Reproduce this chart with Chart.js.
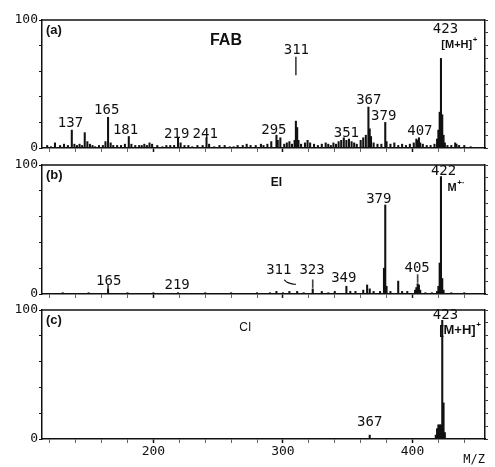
<!DOCTYPE html>
<html>
<head>
<meta charset="utf-8">
<script src="https://cdn.jsdelivr.net/npm/chart.js@4"></script>
<style>
  body { margin: 0; background: #fff; width: 495px; height: 467px; position: relative; overflow: hidden; }
  canvas { position: absolute; left: 0; }
</style>
</head>
<body>
<canvas id="fab" width="495" height="152" style="top:0px"></canvas>
<canvas id="ei" width="495" height="146" style="top:152px"></canvas>
<canvas id="ci" width="495" height="169" style="top:298px"></canvas>
<script>
// shared axes
const mzMin = 114;
const mzMax = 456;
const xTicks = [120, 140, 160, 180, 200, 220, 240, 260, 280, 300, 320, 340, 360, 380, 400, 420, 440];
const xLabelled = [200, 300, 400];
const yTicks = [0, 10, 20, 30, 40, 50, 60, 70, 80, 90, 100];
const yLabelled = [0, 50, 100];

// (a) FAB spectrum
const fabMz = [118, 121, 124, 128, 131, 134, 137, 139, 141, 143, 145, 147, 149, 151, 153, 155, 158, 161, 163, 165, 167, 169,
  172, 175, 178, 181, 183, 186, 189, 191, 193, 195, 197, 199, 203, 207, 210, 213, 216, 219, 221, 224, 227, 230, 234, 238,
  241, 243, 247, 251, 255, 259, 262, 265, 269, 272, 275, 279, 283, 285, 288, 291, 295, 296, 298, 301, 303, 305, 307, 309,
  310, 311, 312, 314, 317, 319, 321, 324, 327, 330, 333, 335, 337, 339, 341, 343, 345, 347, 349, 351, 353, 355, 357, 360,
  362, 364, 366, 367, 368, 370, 373, 376, 379, 380, 383, 386, 389, 392, 395, 398, 401, 403, 404, 405, 406, 408, 411, 414,
  417, 419, 420, 421, 422, 423, 424, 425, 427, 430, 433, 434, 436, 440, 445];
const fabInt = [2, 1, 4, 2, 3, 2, 14, 3, 2, 3, 2, 12, 5, 3, 2, 1, 2, 2, 5, 24, 4, 2,
  2, 2, 3, 9, 3, 2, 2, 2, 3, 2, 4, 3, 2, 1, 2, 2, 2, 8, 4, 2, 2, 1, 2, 2,
  8, 3, 1, 2, 2, 1, 1, 2, 2, 3, 2, 2, 3, 2, 3, 5, 10, 6, 8, 3, 4, 5, 3, 6,
  21, 16, 6, 3, 4, 6, 4, 3, 2, 3, 4, 3, 2, 4, 3, 5, 6, 8, 6, 7, 5, 4, 3, 6,
  8, 10, 32, 15, 9, 4, 3, 3, 20, 5, 3, 4, 2, 3, 2, 3, 4, 7, 6, 8, 4, 3, 2, 2,
  3, 7, 14, 28, 70, 26, 10, 4, 2, 2, 4, 3, 2, 2, 1];
// thin marker stroke drawn above the 311 peak
const fabLeadMz = [310];
const fabLeadLo = [57];
const fabLeadHi = [71];

// (b) EI spectrum
const eiMz = [130, 150, 165, 180, 200, 219, 240, 260, 280, 290, 295, 300, 305, 311, 316, 323, 330, 335, 340, 349, 352,
  356, 362, 365, 367, 370, 375, 378, 379, 380, 383, 389, 392, 396, 402, 403, 404, 405, 406, 410, 415, 419, 420, 421, 422,
  423, 424, 430, 440];
const eiInt = [1, 1, 4, 1, 1, 1, 1, 1, 1, 1, 2, 1, 2, 2, 1, 4, 2, 1, 2, 6, 2,
  2, 3, 7, 4, 2, 2, 20, 69, 6, 2, 10, 2, 2, 3, 5, 8, 7, 3, 1, 1, 2, 6, 24, 91,
  12, 3, 1, 1];
const eiLeadMz = [165, 323, 404];
const eiLeadLo = [4, 5, 9];
const eiLeadHi = [7, 11, 15];
// curved pointer from the "311" label to its peak
const eiHookMz = [301, 303.5, 307, 310];
const eiHookLv = [11, 9, 7.8, 7.5];

// (c) CI spectrum
const ciMz = [367, 418, 419, 420, 421, 422, 423, 424, 425];
const ciInt = [3, 3, 8, 11, 11, 11, 92, 28, 5];

// peak annotations (text, m/z, intensity level of the text centre)
const fabNotes = [
  { t: 'FAB', mz: 256, lv: 84, f: 'tag' },
  { t: '137', mz: 136, lv: 19.5, f: 'num' },
  { t: '165', mz: 164, lv: 29.5, f: 'num' },
  { t: '181', mz: 178.5, lv: 14, f: 'num' },
  { t: '219', mz: 218, lv: 10.5, f: 'num' },
  { t: '241', mz: 240, lv: 10.5, f: 'num' },
  { t: '295', mz: 293, lv: 14, f: 'num' },
  { t: '311', mz: 310.4, lv: 76.6, f: 'num' },
  { t: '351', mz: 349, lv: 11.7, f: 'num' },
  { t: '367', mz: 366.3, lv: 37.5, f: 'num' },
  { t: '379', mz: 377.8, lv: 24.5, f: 'num' },
  { t: '407', mz: 405.7, lv: 12.7, f: 'num' },
  { t: '423', mz: 425.5, lv: 92.7, f: 'num' },
  { t: '[M+H]', sup: '+', mz: 436, lv: 80.5, f: 'ion' }
];
const eiNotes = [
  { t: 'EI', mz: 295, lv: 86, f: 'small' },
  { t: '165', mz: 165.5, lv: 9.5, f: 'num' },
  { t: '219', mz: 218.3, lv: 7, f: 'num' },
  { t: '311', mz: 296.8, lv: 18.6, f: 'num' },
  { t: '323', mz: 322.5, lv: 18.6, f: 'num' },
  { t: '349', mz: 347, lv: 12, f: 'num' },
  { t: '379', mz: 374, lv: 73, f: 'num' },
  { t: '405', mz: 403.6, lv: 20, f: 'num' },
  { t: '422', mz: 424, lv: 94.8, f: 'num' },
  { t: 'M', sup: '+·', mz: 433.5, lv: 82, f: 'ion' }
];
const ciNotes = [
  { t: 'CI', mz: 271, lv: 86, f: 'plain' },
  { t: '367', mz: 367, lv: 12.6, f: 'num' },
  { t: '423', mz: 425.5, lv: 96, f: 'num' },
  { t: '[M+H]', sup: '+', mz: 436.5, lv: 84.5, f: 'big' }
];

const fonts = {
  num: '14px "DejaVu Sans Mono"',
  tag: 'bold 16px "Liberation Sans"',
  small: 'bold 12px "Liberation Sans"',
  plain: '12px "Liberation Sans"',
  ion: 'bold 11px "Liberation Sans"',
  big: 'bold 13px "Liberation Sans"'
};
const supFont = 'bold 8px "Liberation Sans"';
const ink = '#111';

function notesPlugin(letter, notes) {
  return {
    id: 'notes',
    afterDraw(chart) {
      const g = chart.ctx, a = chart.chartArea;
      const sx = chart.scales.x, sy = chart.scales.y;
      g.save();
      // frame top edge
      g.strokeStyle = ink;
      g.lineWidth = 1.5;
      g.beginPath();
      g.moveTo(a.left, a.top);
      g.lineTo(a.right, a.top);
      g.stroke();
      g.fillStyle = ink;
      g.textBaseline = 'middle';
      g.textAlign = 'left';
      g.font = 'bold 13px "Liberation Sans"';
      g.fillText(letter, a.left + 4, a.top + 10);
      notes.forEach(n => {
        const x = sx.getPixelForValue(n.mz), y = sy.getPixelForValue(n.lv);
        g.font = fonts[n.f];
        const w = g.measureText(n.t).width;
        let sw = 0;
        if (n.sup) { g.font = supFont; sw = g.measureText(n.sup).width; }
        const x0 = x - (w + sw) / 2;
        g.font = fonts[n.f];
        g.fillText(n.t, x0, y);
        if (n.sup) { g.font = supFont; g.fillText(n.sup, x0 + w + 0.5, y - 5); }
      });
      g.restore();
    }
  };
}

// keep the edge tick labels from shrinking the plot area
function noEdgePad(s, width) {
  s.width = width;
  s.paddingTop = 0;
  s.paddingBottom = 0;
}

function spectrum(id, opts) {
  const datasets = [{
    data: opts.mz.map((m, i) => ({ x: m, y: opts.int[i] })),
    backgroundColor: ink,
    barThickness: 1.4,
    grouped: false,
    order: 2
  }];
  if (opts.leadMz) {
    datasets.push({
      data: opts.leadMz.map((m, i) => ({ x: m, y: [opts.leadLo[i], opts.leadHi[i]] })),
      backgroundColor: '#444',
      barThickness: 1,
      grouped: false,
      order: 1
    });
  }
  if (opts.hookMz) {
    datasets.push({
      type: 'line',
      data: opts.hookMz.map((m, i) => ({ x: m, y: opts.hookLv[i] })),
      borderColor: ink,
      borderWidth: 1.2,
      pointRadius: 0,
      tension: 0.4,
      order: 0
    });
  }
  const axisFont = { family: 'DejaVu Sans Mono', size: 13 };
  new Chart(document.getElementById(id), {
    type: 'bar',
    data: { datasets },
    options: {
      responsive: false,
      animation: false,
      devicePixelRatio: 1,
      layout: { padding: { top: opts.padTop, left: 0, right: 0, bottom: 0 } },
      plugins: { legend: { display: false }, tooltip: { enabled: false } },
      scales: {
        x: {
          type: 'linear',
          min: mzMin,
          max: mzMax,
          offset: false,
          afterBuildTicks: s => { s.ticks = xTicks.map(v => ({ value: v })); },
          afterFit: s => { s.height = opts.xHeight; s.paddingLeft = 0; s.paddingRight = 0; },
          ticks: {
            display: opts.xLabels,
            autoSkip: false,
            maxRotation: 0,
            padding: 1,
            color: ink,
            font: axisFont,
            callback: v => (xLabelled.includes(v) ? String(v) : '')
          },
          grid: {
            drawOnChartArea: false,
            offset: false,
            tickLength: 4,
            tickColor: c => (xLabelled.includes(c.tick && c.tick.value) ? ink : '#666'),
            tickWidth: c => (xLabelled.includes(c.tick && c.tick.value) ? 1.5 : 1)
          },
          border: { color: ink, width: 1.5 },
          title: {
            display: opts.xLabels,
            text: 'M/Z',
            align: 'end',
            color: ink,
            font: { family: 'DejaVu Sans Mono', size: 12 },
            padding: 0
          }
        },
        y: {
          min: 0,
          max: 100,
          afterBuildTicks: s => { s.ticks = yTicks.map(v => ({ value: v })); },
          afterFit: s => noEdgePad(s, 42),
          ticks: {
            padding: 1,
            color: ink,
            font: axisFont,
            callback: v => (yLabelled.includes(v) ? String(v) : '')
          },
          grid: {
            drawOnChartArea: false,
            tickLength: 3,
            tickColor: ink,
            tickWidth: c => (c.tick && c.tick.value === 50 ? 1.5 : 1)
          },
          border: { color: ink, width: 1.5 }
        },
        y2: {
          position: 'right',
          min: 0,
          max: 100,
          afterBuildTicks: s => { s.ticks = yTicks.map(v => ({ value: v })); },
          afterFit: s => noEdgePad(s, 10),
          ticks: { display: false },
          grid: { drawOnChartArea: false, tickLength: 3, tickColor: '#333' },
          border: { color: ink, width: 1.5 }
        }
      }
    },
    plugins: [notesPlugin(opts.letter, opts.notes)]
  });
}

spectrum('fab', { mz: fabMz, int: fabInt, leadMz: fabLeadMz, leadLo: fabLeadLo, leadHi: fabLeadHi,
  notes: fabNotes, letter: '(a)', padTop: 20, xHeight: 4, xLabels: false });
spectrum('ei', { mz: eiMz, int: eiInt, leadMz: eiLeadMz, leadLo: eiLeadLo, leadHi: eiLeadHi,
  hookMz: eiHookMz, hookLv: eiHookLv, notes: eiNotes, letter: '(b)', padTop: 13, xHeight: 4, xLabels: false });
spectrum('ci', { mz: ciMz, int: ciInt, notes: ciNotes, letter: '(c)', padTop: 12, xHeight: 28, xLabels: true });
</script>
</body>
</html>
